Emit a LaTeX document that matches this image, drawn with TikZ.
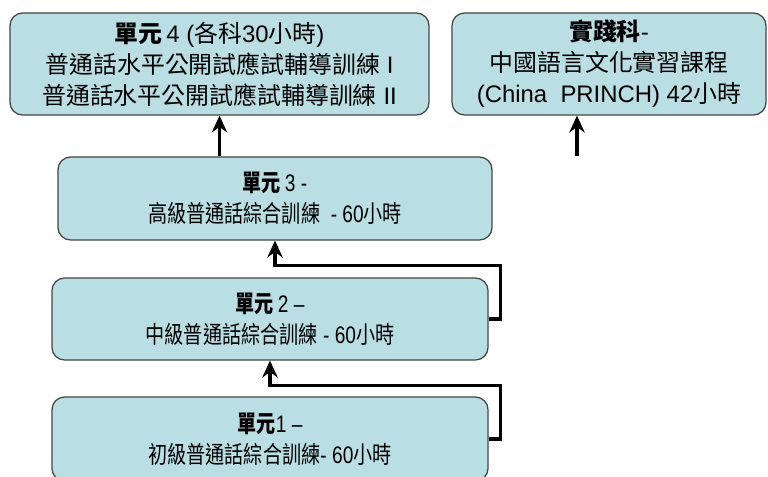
\documentclass[tikz,border=0pt]{standalone}
\usepackage{fontspec}
\setmainfont{Liberation Sans}
\newfontfamily\cjk{Noto Sans CJK TC}
\newfontfamily\cjknarrow[FakeStretch=0.8]{Noto Sans CJK TC}
\newfontfamily\latnarrow[FakeStretch=0.8,Ligatures=TeX]{Liberation Sans}
\newcommand{\zh}[1]{{\cjk #1}}
\newcommand{\zhn}[1]{{\cjknarrow #1}}
\usetikzlibrary{arrows.meta,calc}
\definecolor{unitfill}{RGB}{185,222,227}
\definecolor{unitline}{RGB}{70,70,70}

\begin{document}
\begin{tikzpicture}[x=0.025cm,y=-0.025cm,
    unit/.style={draw=unitline,line width=0.9pt,fill=unitfill,rounded corners=9pt,
      align=center,inner sep=0pt,font=\fontsize{17}{22}\selectfont},
    narrow/.style={font=\latnarrow\fontsize{17}{22}\selectfont},
    link/.style={line width=2.2pt,-{Stealth[length=12pt,width=11pt,inset=4pt]}}]
\clip (0,0) rectangle (768,476);
\fill[white] (0,0) rectangle (768,476);

% the units, bottom to top
\node[unit,narrow,minimum width=10.9cm,minimum height=2.1cm] (unit1) at (270,439)
  {\zhn{\textbf{單元}}1 –\\ \zhn{初級普通話綜合訓練}- 60\zhn{小時}};
\node[unit,narrow,minimum width=10.9cm,minimum height=2.05cm] (unit2) at (270,319)
  {\zhn{\textbf{單元}}\,2 –\\ \zhn{中級普通話綜合訓練} - 60\zhn{小時}};
\node[unit,narrow,minimum width=10.85cm,minimum height=2.075cm] (unit3) at (275,198.5)
  {\zhn{\textbf{單元}}\,3 -\\ \zhn{高級普通話綜合訓練}\ \ - 60\zhn{小時}};
\node[unit,minimum width=10.475cm,minimum height=2.55cm] (unit4) at (219.5,64)
  {\zh{\textbf{單元}}\,4 (\zh{各科}30\zh{小時})\\
   \zh{普通話水平公開試應試輔導訓練} I\\
   \zh{普通話水平公開試應試輔導訓練} II};
\node[unit,minimum width=7.85cm,minimum height=2.55cm] (prac) at (609,64)
  {\zh{\textbf{實踐科}}-\\ \zh{中國語言文化實習課程}\\ (China\ \ PRINCH) 42\zh{小時}};
\coordinate (pracin) at ($(prac.south)+(-32,0)$);

% connectors
\draw[link] (unit1.east) -- ++(12,0) |- ($(unit2.south)+(0,25)$) -- (unit2.south);
\draw[link] (unit2.east) -- ++(12,0) |- ($(unit3.south)+(0,25)$) -- (unit3.south);
\draw[link] (unit3.north -| unit4.south) -- (unit4.south);
\draw[link] (unit3.north -| pracin) -- (pracin);
\end{tikzpicture}
\end{document}
